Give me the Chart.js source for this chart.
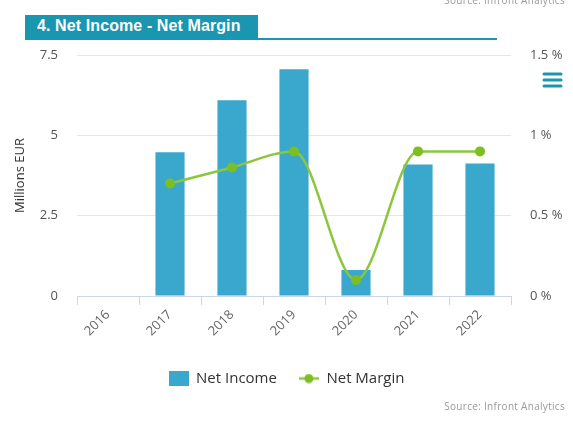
<!DOCTYPE html>
<html>
<head>
<meta charset="utf-8">
<script src="https://cdn.jsdelivr.net/npm/chart.js@4"></script>
<style>
  html, body { margin: 0; padding: 0; background: #fff; }
  #wrap { position: relative; width: 573px; height: 423px; overflow: hidden; }
  #chart { position: absolute; left: 0; top: 0; }
  .source { position: absolute; right: 8px; font: 10px "Open Sans", sans-serif; color: #9a9a9a; letter-spacing: 0.3px; }
  #banner { position: absolute; left: 25px; top: 15px; width: 233px; height: 25px; background: #1a96b0; }
  #banner span { position: absolute; left: 12px; top: 2px; font: bold 16px "Liberation Sans", Arial, sans-serif; color: #fff; letter-spacing: 0.1px; }
  #rule { position: absolute; left: 25px; top: 38px; width: 472px; height: 2px; background: #1a96b0; }
</style>
</head>
<body>
<div id="wrap">
  <canvas id="chart" width="573" height="423"></canvas>
  <div class="source" style="top:-7px">Source: Infront Analytics</div>
  <div id="rule"></div>
  <div id="banner"><span>4. Net Income - Net Margin</span></div>
  <div class="source" style="top:399px">Source: Infront Analytics</div>
</div>
<script>
  // Net income (millions EUR) and net margin (%) per year
  var years = ["2016", "2017", "2018", "2019", "2020", "2021", "2022"];
  var netIncome = [null, 4.47, 6.09, 7.06, 0.81, 4.09, 4.12];
  var netMargin = [null, 0.70, 0.80, 0.90, 0.10, 0.90, 0.90];
  var incomeTicks = [0, 2.5, 5, 7.5];
  var marginTicks = [0, 0.5, 1, 1.5];

  var barColor = "#3aa8cc";
  var lineColor = "#8cc63f";
  var dotColor = "#7cbf1e";

  // legend markers: a filled box for the bars, a line with a dot for the margin
  function boxMarker() {
    var c = document.createElement("canvas");
    c.width = 20; c.height = 15;
    var g = c.getContext("2d");
    g.fillStyle = barColor;
    g.fillRect(0, 0, 20, 15);
    return c;
  }
  function lineMarker() {
    var c = document.createElement("canvas");
    c.width = 20; c.height = 10;
    var g = c.getContext("2d");
    g.strokeStyle = lineColor;
    g.lineWidth = 2.5;
    g.beginPath(); g.moveTo(0, 5); g.lineTo(20, 5); g.stroke();
    g.fillStyle = dotColor;
    g.beginPath(); g.arc(10, 5, 4.5, 0, Math.PI * 2); g.fill();
    return c;
  }
  var markers = { "Net Income": boxMarker(), "Net Margin": lineMarker() };

  // hamburger menu icon in the top right corner
  var menuIcon = {
    id: "menuIcon",
    afterDraw: function(chart) {
      var ctx = chart.ctx;
      ctx.save();
      ctx.strokeStyle = "#1a96b0";
      ctx.lineWidth = 3;
      ctx.lineCap = "round";
      [74, 80, 86].forEach(function(y) {
        ctx.beginPath(); ctx.moveTo(544, y); ctx.lineTo(561, y); ctx.stroke();
      });
      ctx.restore();
    }
  };

  var font = "'Open Sans', sans-serif";

  var ctx = document.getElementById("chart").getContext("2d");
  var chart = new Chart(ctx, {
    type: "bar",
    data: {
      labels: years,
      datasets: [{
        type: "line",
        label: "Net Margin",
        data: netMargin,
        yAxisID: "yMargin",
        borderColor: lineColor,
        borderWidth: 2.5,
        backgroundColor: dotColor,
        pointBackgroundColor: dotColor,
        pointBorderWidth: 0,
        pointRadius: 5,
        cubicInterpolationMode: "monotone",
        order: 0
      }, {
        label: "Net Income",
        data: netIncome,
        yAxisID: "yIncome",
        backgroundColor: barColor,
        barPercentage: 0.47,
        categoryPercentage: 1,
        order: 1
      }]
    },
    options: {
      responsive: false,
      animation: false,
      layout: { padding: { top: 55, bottom: 27, left: 0, right: 0 } },
      plugins: {
        tooltip: { enabled: false },
        legend: {
          position: "bottom",
          reverse: true,
          labels: {
            usePointStyle: true,
            pointStyleWidth: 20,
            padding: 22,
            color: "#333",
            font: { family: font, size: 15 },
            generateLabels: function(chart) {
              var items = Chart.defaults.plugins.legend.labels.generateLabels(chart);
              items.forEach(function(it) { it.pointStyle = markers[it.text]; });
              return items;
            }
          }
        }
      },
      scales: {
        x: {
          afterFit: function(s) { s.height = 53; },
          border: { color: "#ccd6eb" },
          grid: { offset: true, drawOnChartArea: false, drawTicks: true, tickLength: 9, color: "#ccd6eb" },
          ticks: { minRotation: 45, maxRotation: 45, padding: 2, color: "#666", font: { family: font, size: 13 } }
        },
        yIncome: {
          position: "left",
          min: 0, max: 7.5,
          afterFit: function(s) { s.width = 77; },
          afterBuildTicks: function(s) { s.ticks = incomeTicks.map(function(v) { return { value: v }; }); },
          border: { display: false },
          grid: { color: "#e6e6e6", drawTicks: false },
          title: { display: true, text: "Millions EUR", color: "#333", font: { family: font, size: 13 }, padding: { top: 12, bottom: 0 } },
          ticks: { padding: 19, color: "#555", font: { family: font, size: 13 } }
        },
        yMargin: {
          position: "right",
          min: 0, max: 1.5,
          afterFit: function(s) { s.width = 62; },
          afterBuildTicks: function(s) { s.ticks = marginTicks.map(function(v) { return { value: v }; }); },
          border: { display: false },
          grid: { drawOnChartArea: false, drawTicks: false },
          ticks: {
            padding: 19, color: "#555", font: { family: font, size: 13 },
            callback: function(v) { return v + " %"; }
          }
        }
      }
    },
    plugins: [menuIcon]
  });
</script>
</body>
</html>
